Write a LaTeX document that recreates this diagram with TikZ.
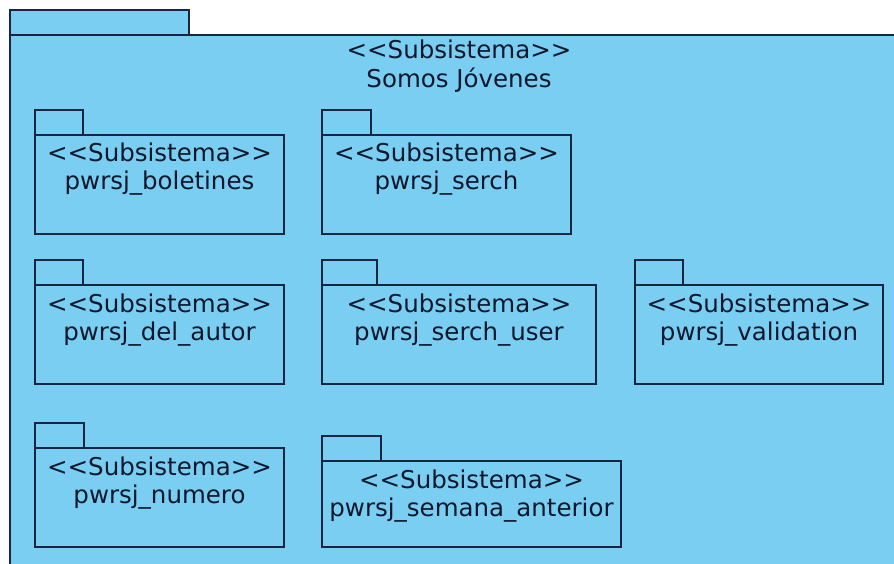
\documentclass[tikz,border=0pt]{standalone}
\usepackage{fontspec}
\setmainfont{DejaVu Sans}[Ligatures=ResetAll]
\definecolor{pkgfill}{RGB}{121,206,242}
\definecolor{pkgline}{RGB}{24,38,66}
\definecolor{pkgtext}{RGB}{14,24,44}
\tikzset{
  pkgshape/.style={rectangle, draw=pkgline, fill=pkgfill, line width=1.3pt,
    inner sep=0pt, outer sep=0pt, anchor=north west},
  lbl/.style={text=pkgtext, font=\fontsize{24.5}{29}\selectfont, anchor=base, inner sep=0pt}
}
\newcommand\stereo{{<}{<}Subsistema{>}{>}}
% name, x1, tab x2, tab top, body top, x2, bottom, label
\newcommand\pkgbox[8]{%
  \node[pkgshape, minimum width={#3pt-#2pt}, minimum height={#5pt-#4pt}] (#1tab) at (#2,#4) {};
  \node[pkgshape, minimum width={#6pt-#2pt}, minimum height={#7pt-#5pt}] (#1) at (#2,#5) {};
  \node[lbl] (#1st) at ({(#2+#6)/2},{#5+27}) {\stereo};
  \node[lbl] (#1nm) at ({(#2+#6)/2},{#5+55}) {#8};
}
\begin{document}
\begin{tikzpicture}[x=1pt,y=-1pt]
\useasboundingbox (0,0) rectangle (894,564);
\clip (0,0) rectangle (894,564);
\fill[white] (0,0) rectangle (894,564);
% outer package
\node[pkgshape, minimum width=179pt, minimum height=25pt] (outertab) at (10,10) {};
\node[pkgshape, minimum width=900pt, minimum height=570pt] (outer) at (10,35) {};
\node[lbl] (outerst) at (459,59) {\stereo};
\node[lbl] (outernm) at (459,88) {Somos Jóvenes};
% inner packages
\pkgbox{bol}{35}{83}{110}{135}{284}{234}{pwrsj\_boletines}
\pkgbox{ser}{322}{371}{110}{135}{571}{234}{pwrsj\_serch}
\pkgbox{del}{35}{83}{260}{285}{284}{384}{pwrsj\_del\_autor}
\pkgbox{seru}{322}{377}{260}{285}{596}{384}{pwrsj\_serch\_user}
\pkgbox{val}{635}{683}{260}{285}{883}{384}{pwrsj\_validation}
\pkgbox{num}{35}{84}{423}{448}{284}{547}{pwrsj\_numero}
\pkgbox{sem}{322}{381}{436}{461}{621}{547}{pwrsj\_semana\_anterior}
\end{tikzpicture}
\end{document}
